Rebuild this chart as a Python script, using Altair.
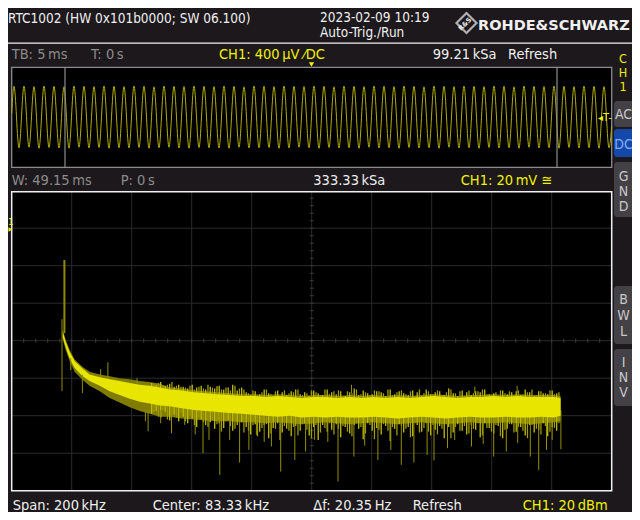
import altair as alt
import pandas as pd

FONT = "'Liberation Sans Narrow', 'DejaVu Sans Condensed', 'Liberation Sans', sans-serif"
BG = "#1c181c"
YEL = "#f2f200"
WHITE = "#f0f0f0"
GRAY = "#8c8c8c"
OLIVE = "#938f00"

# ---------------- overview (time domain) : extremes of the sine, in µV ----------------
t_first_peak = -29.77   # ms, first maximum
half_period = 0.5       # ms between successive extremes
wave_amp = [
    1240, -1220, 1250, -1200, 1230, -1240, 1250, -1210, 1240, -1230,
    1220, -1240, 1250, -1200, 1240, -1230, 1230, -1210, 1250, -1240,
    1240, -1220, 1230, -1230, 1250, -1210, 1240, -1240, 1220, -1220,
    1250, -1200, 1240, -1230, 1230, -1240, 1250, -1210, 1240, -1220,
    1230, -1230, 1250, -1240, 1240, -1200, 1220, -1230, 1250, -1220,
    1240, -1210, 1230, -1240, 1250, -1230, 1240, -1200, 1230, -1220,
    1250, -1240, 1240, -1210, 1220, -1230, 1250, -1220, 1240, -1240,
    1230, -1200, 1250, -1230, 1240, -1220, 1230, -1240, 1250, -1210,
    1240, -1230, 1220, -1220, 1250, -1240, 1240, -1200, 1230, -1230,
    1250, -1220, 1240, -1240, 1230, -1210, 1250, -1230, 1240, -1220,
    1220, -1240, 1250, -1200, 1240, -1230, 1230, -1220, 1250, -1240,
    1240, -1210, 1230, -1230, 1250, -1220, 1240, -1240, 1230, -1220,
]
wave_start = (-30.0, 150)
wave_end = (30.0, -350)
window_edges = [-24.67, 24.53]   # ms, zoom window W: 49.15 ms

# ---------------- spectrum (kHz, dBm) ----------------
band_f = [0.33, 1.33, 2.67, 4.33, 7.0, 9.3, 12.7, 16.0, 19.3, 22.7,
          26.0, 29.3, 32.7, 36.0, 40.0, 44.0, 48.0, 52.0, 56.0, 60.0,
          64.0, 68.0, 72.0, 76.0, 80.0, 84.0, 88.0, 92.0, 96.0, 100.0,
          104.0, 108.0, 112.0, 116.0, 120.0, 124.0, 128.0, 132.0, 136.0, 140.0,
          144.0, 148.0, 152.0, 156.0, 160.0, 164.0, 166.3]
core_hi = [-55, -60.5, -66, -71, -75, -78, -79.5, -80.5, -81.5, -82.5,
           -83.5, -84, -85, -86, -86.5, -87.5, -88, -88.5, -89, -89.5,
           -89.5, -90, -89.5, -90, -90.5, -90, -90, -90.5, -90, -90.5,
           -90, -90.5, -90, -90.5, -90, -89.5, -90, -90.5, -90, -90,
           -89.5, -90, -89.5, -90, -90, -90, -90.5]
core_lo = [-58, -63.5, -69.5, -74.5, -79, -81.5, -84, -87, -89, -91,
           -92.5, -93.5, -94.5, -95, -96, -97, -97.5, -98, -98.5, -99,
           -99.5, -100, -100.5, -100, -101, -100.5, -101, -100.5, -101, -101,
           -100.5, -101, -101.5, -101, -100.5, -101, -101.5, -101, -100.5, -101,
           -101, -100.5, -101, -101, -100.5, -101, -100]
outer_hi = [-54, -59.5, -65, -70, -74, -76.5, -78, -79, -80, -80.5,
            -81.5, -82, -83, -85, -85.5, -86.5, -87, -87.5, -88, -88.5,
            -88.5, -89, -88.5, -89, -89.5, -89, -89, -89.5, -89, -89.5,
            -89, -89.5, -89, -89.5, -89, -88.5, -89, -89.5, -89, -89,
            -88.5, -89, -88.5, -89, -89, -89, -89.5]
outer_lo = [-59, -65, -71, -76.5, -81, -84, -87, -90.5, -93, -95.5,
            -97.5, -99, -100.5, -100.5, -101.5, -102, -102.5, -103, -103, -103.5,
            -103.5, -104, -103.5, -104, -104.5, -104, -103.5, -104, -104.5, -104,
            -103.5, -104, -104.5, -104, -103.5, -104, -104.5, -104, -103.5, -104,
            -104, -103.5, -104, -104.5, -104, -103.5, -103]

# dense noise comb, two interleaved sets of bins 1.5 kHz apart from 30 kHz:
# lower and upper tips of each bin
comb_f0, comb_df = 30.0, 1.5
comb_lo = [-99, -97.5, -101, -98, -102.5, -99.5, -103,
           -100.5, -104, -101.5, -106, -102, -105, -103.5,
           -107, -104, -106.5, -102.5, -108, -105, -103.5,
           -106, -110, -104.5, -108.5, -105, -112, -106.5, -104, -109, -107,
           -111, -105.5, -108, -104, -110.5, -106, -113, -105, -108.5, -107.5,
           -104.5, -111.5, -106, -109.5, -105, -107, -112.5, -104, -108, -106.5,
           -110, -105.5, -113.5, -107, -104.5, -109, -106, -111, -105, -108.5,
           -104, -110.5, -107.5, -105.5, -112, -106, -109, -104.5, -108, -110,
           -105, -107.5, -111.5, -104, -106.5, -109.5, -105.5, -112, -107, -104.5,
           -108.5, -106, -110.5, -105, -109, -107.5, -104, -111, -106, -108]
comb_hi = [-82.5, -83.5, -82, -84, -83, -84.5, -83.5,
           -84.5, -85.5, -83.5, -85, -84, -86, -84.5,
           -85.5, -84, -86, -85, -83.5, -86.5, -85,
           -87.5, -89, -87, -88.5, -86, -88, -89.5, -86.5, -87.5, -89,
           -87, -86, -88.5, -87.5, -89.5, -86.5, -88, -89, -86, -87.5,
           -88.5, -87, -89.5, -87.5, -85.5, -89, -86.5, -88, -88.5, -87,
           -87.5, -89.5, -86, -88.5, -87, -88, -89, -86.5, -87.5, -89.5,
           -86, -88.5, -87.5, -87, -89, -85.5, -88, -89.5, -86.5, -87.5,
           -89, -87, -87.5, -86, -88.5, -88, -89.5, -86.5, -88.5, -87.5,
           -87, -89, -86, -87.5, -89.5, -87, -88, -88.5, -86.5, -88]
comb2_f0 = 30.75
comb2_lo = [-98, -100.5, -97, -102, -99.5, -101, -98.5,
            -103, -100, -105, -101, -103.5, -106, -102.5,
            -104.5, -108.5, -103, -105.5, -107, -104, -109,
            -108, -105, -111, -106.5, -104.5, -109.5, -107, -113, -105.5, -108,
            -106, -110.5, -104.5, -107.5, -112, -105, -109, -106.5, -104, -110,
            -107, -105.5, -108.5, -111, -104, -106, -109.5, -105, -112.5, -107.5,
            -104.5, -108, -106, -110.5, -105.5, -107, -111.5, -104, -109, -106.5,
            -108.5, -105, -110, -107, -104.5, -112, -106, -108, -105.5, -109.5,
            -107, -104, -110.5, -106.5, -108.5, -105, -111, -107.5, -104.5, -109,
            -106, -108, -112, -105, -107, -110, -105.5, -108.5, -106.5, -104]
comb2_hi = [-83, -82.5, -84, -83.5, -82, -84, -84.5,
            -85, -84, -86, -84.5, -85.5, -83.5, -85,
            -84.5, -86, -85, -86.5, -84, -85.5, -86,
            -88, -86.5, -89, -87.5, -86, -88.5, -87, -89.5, -86.5, -88,
            -87.5, -86, -89, -88, -86.5, -87.5, -89, -86, -88.5, -87,
            -86.5, -89.5, -87, -88, -86, -88.5, -87.5, -89, -86.5, -87,
            -88, -86, -89, -87.5, -86.5, -88.5, -87, -89.5, -86, -88,
            -87, -88.5, -86.5, -89, -87.5, -86, -88, -87, -89.5, -86.5,
            -88, -87, -86, -88.5, -89, -87.5, -86.5, -88, -87, -89,
            -86.5, -88.5, -87.5, -86, -89, -87, -88, -86.5, -88.5, -87.5]

# long downward noise spikes: frequency and tip level
down_f = [27.9, 28.8, 33.0, 36.6, 41.0, 44.5, 47.1, 49.1, 52.7, 56.0,
          59.3, 62.4, 64.9, 67.5, 69.9, 73.0, 77.7, 81.3, 84.3, 88.7,
          92.1, 97.4, 101.0, 105.4, 109.7, 113.2, 117.4, 121.8, 124.1, 128.6,
          131.0, 136.6, 140.5, 144.0, 148.2, 152.0, 156.2, 159.0, 161.6, 163.5, 166.4]
down_tip = [-102.9, -108.3, -104.0, -109.3, -104.9, -110.0, -120.0, -112.9, -131.6, -112.9,
            -125.0, -118.2, -110.2, -114.0, -116.4, -129.8, -123.6, -119.1, -112.9, -114.0,
            -135.1, -121.8, -116.0, -123.6, -118.2, -126.2, -125.0, -120.9, -123.9, -117.3,
            -113.0, -116.4, -115.0, -121.8, -119.1, -114.5, -121.8, -128.9, -118.2, -113.0, -117.9]
# upward spikes
up_f = [13.0, 15.4, 25.1, 51.8, 96.6, 137.7, 151.8]
up_tip = [-75.2, -71.5, -80.0, -84.1, -83.5, -84.5, -84.1]
up_base = [-81.0, -81.0, -84.0, -87.0, -88.0, -88.0, -88.0]
# low-frequency lines (carrier)
line_f = [0.1, 0.9, 3.0, 6.9]
line_hi = [-48.5, -17.0, -69.3, -78.2]
line_lo = [-86.9, -56.0, -75.7, -88.0]
line_w = [1.0, 2.0, 1.0, 1.0]

grid_f = [3.33, 23.33, 43.33, 63.33, 83.33, 103.33, 123.33, 143.33, 163.33]
grid_db = [0, -20, -40, -60, -80, -100, -120]
tick_f = [round(-16.667 + 4 * k, 3) for k in range(1, 50)]
tick_db = [20 - 4 * k for k in range(1, 40)]

# ---------------- scales (pixel ranges of the two screens) ----------------
TX = alt.Scale(domain=[-30, 30], range=[3.7, 603.7], nice=False, zero=False)
TY = alt.Scale(domain=[-2000, 2000], range=[155.3, 55.3], nice=False, zero=False)
SX = alt.Scale(domain=[-16.667, 183.333], range=[3.7, 603.7], nice=False, zero=False)
SY = alt.Scale(domain=[-140, 20], range=[478.7, 178.7], nice=False, zero=False)

ONE = pd.DataFrame({"k": [0]})


def text(s, x, y, color=WHITE, size=14.5, align="left", font=FONT, weight="normal", angle=0):
    kw = dict(text=s, align=align, baseline="alphabetic", font=font, fontSize=size,
              fontWeight=weight, color=color)
    if angle:
        kw["angle"] = angle
    return alt.Chart(ONE).mark_text(**kw).encode(x=alt.value(x), y=alt.value(y))


def rect(x0, x1, y0, y1, fill, stroke=None, sw=0, r=0):
    kw = dict(fill=fill)
    if stroke:
        kw["stroke"] = stroke
        kw["strokeWidth"] = sw
    if r:
        kw["cornerRadius"] = r
    return alt.Chart(ONE).mark_rect(**kw).encode(
        x=alt.value(x0), x2=alt.value(x1), y=alt.value(y0), y2=alt.value(y1))


def spikes(df, color, width, lo="lo", hi="hi"):
    return alt.Chart(df).mark_rule(color=color, strokeWidth=width).encode(
        x=alt.X("f:Q", scale=SX, axis=None),
        y=alt.Y(f"{lo}:Q", scale=SY, axis=None), y2=f"{hi}:Q")


layers = []

# header
layers.append(rect(0, 624, 30.5, 31.8, WHITE))
layers.append(text("RTC1002 (HW 0x101b0000; SW 06.100)", 0, 11, size=13.5))
layers.append(text("2023-02-09 10:19", 312, 10, size=13.5))
layers.append(text("Auto-Trig./Run", 312, 25, size=13.5))
layers.append(alt.Chart(ONE).mark_point(shape="diamond", size=400, filled=False,
                                        stroke=WHITE, strokeWidth=2.2)
              .encode(x=alt.value(458.5), y=alt.value(11)))
layers.append(text("R&S", 458.5, 13.5, size=6.5, align="center", weight="bold", angle=315,
                   font="DejaVu Sans"))
layers.append(text("ROHDE&SCHWARZ", 470, 17.5, size=14.5, weight="bold", font="DejaVu Sans"))

# row 2
layers.append(text("TB: 5\u2009ms", 3.7, 47, color=GRAY))
layers.append(text("T: 0\u2009s", 83, 47, color=GRAY))
layers.append(text("CH1: 400\u2009µV \u2044DC", 211, 47, color=YEL))
layers.append(text("99.21\u2009kSa", 424.7, 47))
layers.append(text("Refresh", 500, 47))
layers.append(alt.Chart(ONE).mark_point(shape="triangle-down", size=28, filled=True,
                                        color=YEL, opacity=1)
              .encode(x=alt.value(303.5), y=alt.value(52.5)))

# overview panel
layers.append(rect(3.7, 603.7, 55.3, 155.3, "#000000", stroke=GRAY, sw=1.3))
wave_df = pd.DataFrame({
    "t": [wave_start[0]] + [t_first_peak + half_period * i for i in range(len(wave_amp))] + [wave_end[0]],
    "v": [wave_start[1]] + wave_amp + [wave_end[1]],
})
layers.append(alt.Chart(wave_df).mark_line(color="#b3ae00", strokeWidth=1, interpolate="monotone")
              .encode(x=alt.X("t:Q", scale=TX, axis=None), y=alt.Y("v:Q", scale=TY, axis=None)))
layers.append(alt.Chart(pd.DataFrame({"t": window_edges})).mark_rule(color=GRAY, strokeWidth=1.2)
              .encode(x=alt.X("t:Q", scale=TX, axis=None), y=alt.value(55.3), y2=alt.value(155.3)))
layers.append(text("\u25c2T-", 590, 109, color=YEL, size=10, font="DejaVu Sans"))

# row 3
layers.append(text("W: 49.15\u2009ms", 3.7, 173, color=GRAY))
layers.append(text("P: 0\u2009s", 112.7, 173, color=GRAY))
layers.append(text("333.33\u2009kSa", 305.3, 173))
layers.append(text("CH1: 20\u2009mV \u2245", 452.7, 173, color=YEL))

# spectrum panel
layers.append(rect(3.7, 603.7, 179.7, 478.7, "#000000"))
layers.append(alt.Chart(pd.DataFrame({"f": grid_f})).mark_rule(color="#2a2a2a", strokeWidth=1)
              .encode(x=alt.X("f:Q", scale=SX, axis=None), y=alt.value(179.7), y2=alt.value(478.7)))
layers.append(alt.Chart(pd.DataFrame({"d": grid_db})).mark_rule(color="#2a2a2a", strokeWidth=1)
              .encode(y=alt.Y("d:Q", scale=SY, axis=None), x=alt.value(3.7), x2=alt.value(603.7)))
layers.append(alt.Chart(pd.DataFrame({"f": tick_f})).mark_rule(color="#3a3a3a", strokeWidth=1)
              .encode(x=alt.X("f:Q", scale=SX, axis=None),
                      y=alt.Y("a:Q", scale=SY, axis=None), y2="b:Q")
              .transform_calculate(a="-58.9", b="-61.1"))
layers.append(alt.Chart(pd.DataFrame({"d": tick_db})).mark_rule(color="#3a3a3a", strokeWidth=1)
              .encode(y=alt.Y("d:Q", scale=SY, axis=None),
                      x=alt.X("a:Q", scale=SX, axis=None), x2="b:Q")
              .transform_calculate(a="82.66", b="84.0"))

band_df = pd.DataFrame({"f": band_f, "chi": core_hi, "clo": core_lo, "ohi": outer_hi, "olo": outer_lo})
layers.append(alt.Chart(band_df).mark_area(color="#7f7c00", opacity=1)
              .encode(x=alt.X("f:Q", scale=SX, axis=None),
                      y=alt.Y("ohi:Q", scale=SY, axis=None), y2="olo:Q"))
comb1 = pd.DataFrame({"f": [comb_f0 + comb_df * i for i in range(len(comb_lo))],
                      "lo": comb_lo, "hi": comb_hi})
comb2 = pd.DataFrame({"f": [comb2_f0 + comb_df * i for i in range(len(comb2_lo))],
                      "lo": comb2_lo, "hi": comb2_hi})
layers.append(spikes(comb2, "#9e9a00", 1.3))
layers.append(spikes(comb1, "#c2be00", 1.3))
down_df = pd.DataFrame({"f": down_f, "lo": down_tip, "hi": [-97.0] * len(down_tip)})
layers.append(spikes(down_df, OLIVE, 1))
up_df = pd.DataFrame({"f": up_f, "lo": up_base, "hi": up_tip})
layers.append(spikes(up_df, OLIVE, 1))
layers.append(alt.Chart(band_df).mark_area(color="#e8e600", opacity=1)
              .encode(x=alt.X("f:Q", scale=SX, axis=None),
                      y=alt.Y("chi:Q", scale=SY, axis=None), y2="clo:Q"))
line_df = pd.DataFrame({"f": line_f, "hi": line_hi, "lo": line_lo, "w": line_w})
layers.append(alt.Chart(line_df).mark_rule(color="#8f8a00")
              .encode(x=alt.X("f:Q", scale=SX, axis=None),
                      y=alt.Y("hi:Q", scale=SY, axis=None), y2="lo:Q",
                      strokeWidth=alt.StrokeWidth("w:Q", scale=None)))
layers.append(rect(3.7, 603.7, 179.7, 478.7, "transparent", stroke=WHITE, sw=1.5))
layers.append(text("1", 0, 213, color=YEL, size=9, font="DejaVu Sans"))
layers.append(alt.Chart(ONE).mark_point(shape="triangle-right", size=22, filled=True, color=YEL, opacity=1)
              .encode(x=alt.value(2.5), y=alt.value(217.5)))

# side buttons
layers.append(text("C", 615, 51, color=YEL, size=12.5, align="center"))
layers.append(text("H", 615, 65, color=YEL, size=12.5, align="center"))
layers.append(text("1", 615, 79, color=YEL, size=12.5, align="center"))
BTN = "#434145"
for (y0, y1, fill, letters, ys, col) in [
    (89, 115, BTN, ["AC"], [107], "#c8c8c8"),
    (117, 145, "#1548a8", ["DC"], [137], "#7fb0ff"),
    (150, 205, BTN, ["G", "N", "D"], [169, 184, 199], "#c8c8c8"),
    (274, 332, BTN, ["B", "W", "L"], [292, 308, 324], "#c8c8c8"),
    (337, 394, BTN, ["I", "N", "V"], [355, 370, 385], "#c8c8c8"),
]:
    layers.append(rect(606, 630, y0, y1, fill, r=3))
    for s, yy in zip(letters, ys):
        layers.append(text(s, 615.5, yy, color=col, size=14, align="center"))

# footer
layers.append(text("Span: 200\u2009kHz", 4.7, 498))
layers.append(text("Center: 83.33\u2009kHz", 144.7, 498))
layers.append(text("\u0394f: 20.35\u2009Hz", 305.3, 498))
layers.append(text("Refresh", 404.7, 498))
layers.append(text("CH1: 20\u2009dBm", 514.7, 498, color=YEL))

chart = (alt.layer(*layers)
         .resolve_scale(x="independent", y="independent")
         .properties(width=624, height=504, background=BG, padding=0,
                     autosize=alt.AutoSizeParams(type="fit", contains="padding"))
         .configure_view(stroke=None))

chart.save("out.html", embed_options={"renderer": "svg", "actions": False})
